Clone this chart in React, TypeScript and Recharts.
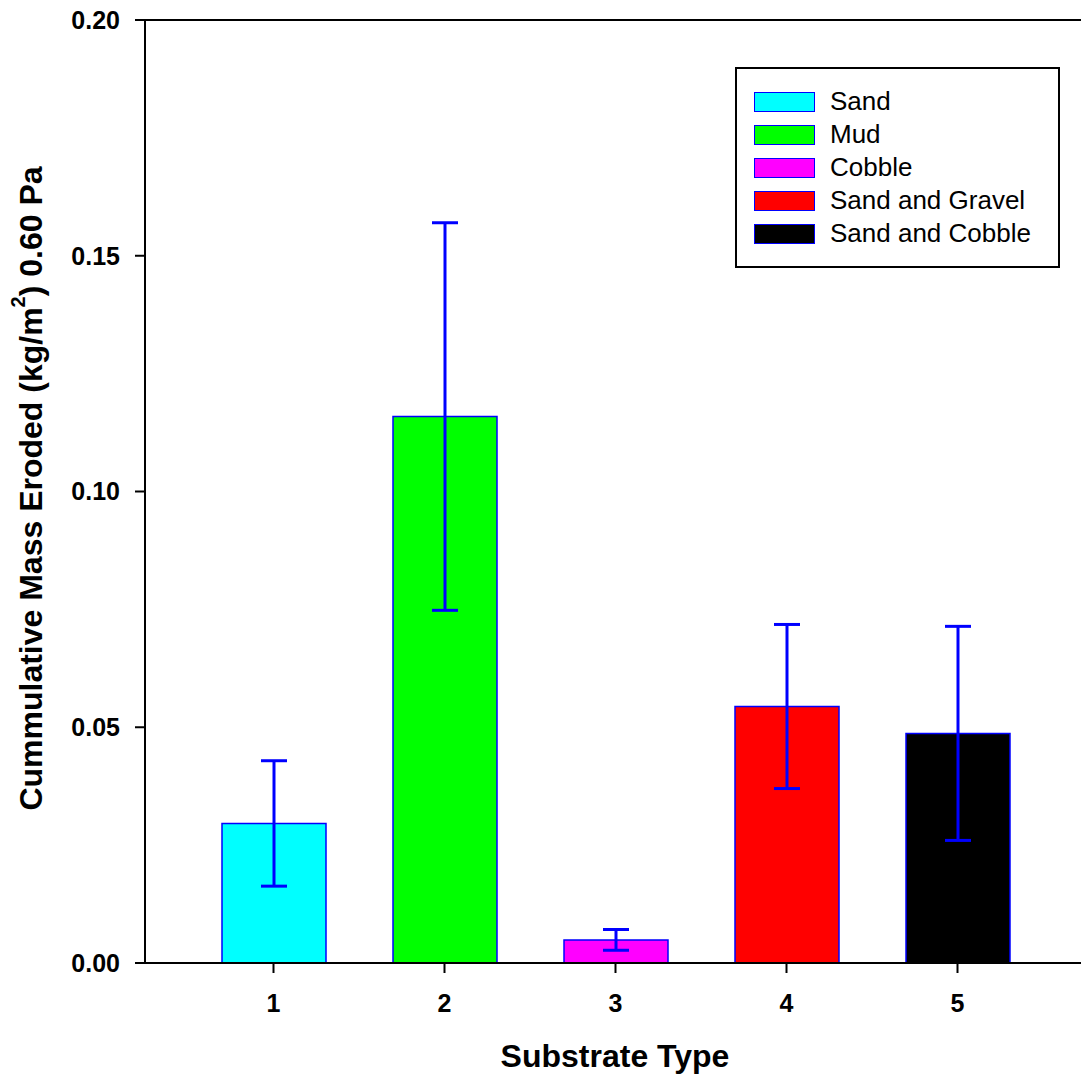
import { BarChart, Bar, Cell, XAxis, YAxis, ErrorBar, ReferenceLine, Legend, Label } from "recharts";

const categories = ["1", "2", "3", "4", "5"];
const substrates = ["Sand", "Mud", "Cobble", "Sand and Gravel", "Sand and Cobble"];
const massEroded = [0.0296, 0.1159, 0.0049, 0.0544, 0.0487];
const stdErr = [0.0133, 0.0411, 0.0022, 0.0174, 0.0227];
const colors = ["#00FFFF", "#00FF00", "#FF00FF", "#FF0000", "#000000"];
const yTicks = [0, 0.05, 0.1, 0.15, 0.2];

const data = categories.map((c, i) => ({
  type: c,
  name: substrates[i],
  value: massEroded[i],
  err: stdErr[i],
}));

const FONT = '"Liberation Sans", Arial, sans-serif';
const BLUE = "#0000FF";

function YTitle(props: any) {
  const vb = props.viewBox || { x: 0, y: 20, width: 145, height: 943 };
  const cx = 31;
  const cy = vb.y + vb.height / 2 - 3;
  return (
    <text
      x={cx}
      y={cy}
      transform={`rotate(-90, ${cx}, ${cy})`}
      textAnchor="middle"
      dominantBaseline="central"
      fontFamily={FONT}
      fontWeight="bold"
      fontSize={32}
      fill="#000"
    >
      <tspan>Cummulative Mass Eroded (kg/m</tspan>
      <tspan fontSize={20} dy={-13}>2</tspan>
      <tspan dy={13}>) 0.60 Pa</tspan>
    </text>
  );
}

function XTitle() {
  return (
    <text
      x={615}
      y={1067}
      textAnchor="middle"
      fontFamily={FONT}
      fontWeight="bold"
      fontSize={32}
      fill="#000"
    >
      Substrate Type
    </text>
  );
}

function LegendBox() {
  return (
    <div
      style={{
        width: 325,
        height: 201,
        border: "2px solid #000",
        boxSizing: "border-box",
        background: "#fff",
        paddingTop: 16,
        paddingLeft: 17,
        fontFamily: FONT,
        fontSize: 26,
        color: "#000",
      }}
    >
      {substrates.map((s, i) => (
        <div key={s} style={{ display: "flex", alignItems: "center", height: 33 }}>
          <span
            style={{
              display: "inline-block",
              width: 61,
              height: 20,
              background: colors[i],
              border: `1.5px solid ${BLUE}`,
              boxSizing: "border-box",
              marginRight: 15,
            }}
          />
          <span>{s}</span>
        </div>
      ))}
    </div>
  );
}

export default function App() {
  return (
    <div
      style={{
        position: "fixed",
        left: 0,
        top: 0,
        width: 1081,
        height: 1080,
        overflow: "hidden",
        background: "#fff",
      }}
    >
      <BarChart
        width={1090}
        height={1080}
        data={data}
        margin={{ top: 20, right: 4, bottom: 0, left: 0 }}
        barSize={104}
      >
        <XAxis
          dataKey="type"
          height={117}
          padding={{ left: 43, right: 43 }}
          axisLine={{ stroke: "#000", strokeWidth: 2 }}
          tickLine={{ stroke: "#000", strokeWidth: 2 }}
          tickSize={10}
          tickMargin={21}
          tick={{ fontFamily: FONT, fontWeight: "bold", fontSize: 25, fill: "#000" }}
        >
          <Label content={<XTitle />} />
        </XAxis>
        <YAxis
          width={145}
          domain={[0, 0.2]}
          ticks={yTicks}
          tickFormatter={(v: number) => v.toFixed(2)}
          axisLine={{ stroke: "#000", strokeWidth: 2 }}
          tickLine={{ stroke: "#000", strokeWidth: 2 }}
          tickSize={10}
          tickMargin={15}
          tick={{ fontFamily: FONT, fontWeight: "bold", fontSize: 25, fill: "#000" }}
        >
          <Label content={(p: any) => <YTitle {...p} />} />
        </YAxis>
        <ReferenceLine y={0.2} stroke="#000" strokeWidth={2} />
        <Legend
          layout="horizontal"
          verticalAlign="middle"
          align="center"
          wrapperStyle={{ position: "absolute", left: 735, top: 67, width: 325, height: 201 }}
          content={() => <LegendBox />}
        />
        <Bar dataKey="value" stroke={BLUE} strokeWidth={1.5} isAnimationActive={false}>
          {data.map((d, i) => (
            <Cell key={d.type} fill={colors[i]} stroke={BLUE} strokeWidth={1.5} />
          ))}
          <ErrorBar dataKey="err" direction="y" width={13} stroke={BLUE} strokeWidth={3} isAnimationActive={false} />
        </Bar>
      </BarChart>
    </div>
  );
}
